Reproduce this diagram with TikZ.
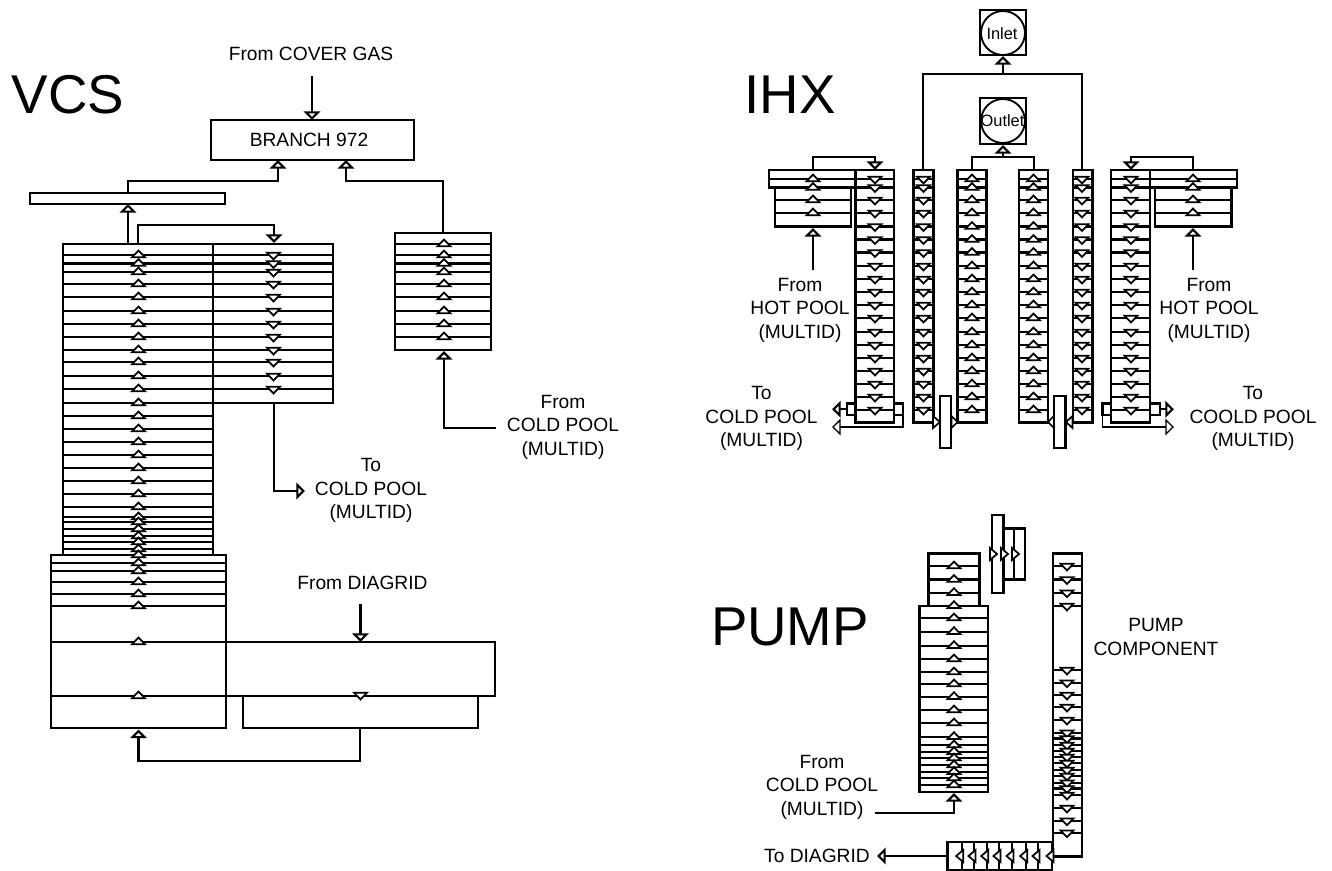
\documentclass[tikz,border=0pt]{standalone}
\usepackage{fontspec}
\setmainfont{Liberation Sans}
\usetikzlibrary{arrows.meta,calc}
\tikzset{
  cell/.style={draw=black,line width=1.6pt,inner sep=0pt,outer sep=0pt,rectangle},
  tri/.style={draw=black,fill=white,line width=1.3pt,line join=miter},
  link/.style={draw=black,line width=1.6pt},
  flow/.style={link,-{Triangle[open,fill=white,length=6.5pt,width=12.5pt]}},
  thinflow/.style={flow,line width=1pt},
  lab/.style={font=\fontsize{14.4}{17.6}\selectfont,align=center,inner sep=0pt},
  small/.style={font=\fontsize{12.3}{14}\selectfont,inner sep=0pt},
  big/.style={font=\fontsize{41}{44}\selectfont,inner sep=0pt},
  port/.style={draw=black,fill=white,line width=1.4pt,circle,inner sep=0pt,minimum size=33pt}
}
% one box from corner to corner, in pixels
\newcommand{\bx}[5]{%
  \pgfmathsetmacro{\ww}{(#4-#2)*0.75}\pgfmathsetmacro{\hh}{(#5-#3)*0.75}%
  \pgfmathsetmacro{\cx}{(#2+#4)/2}\pgfmathsetmacro{\cy}{(#3+#5)/2}%
  \node[cell,minimum width=\ww pt,minimum height=\hh pt] (#1) at (\cx,\cy) {};}
% a stack of rows, between the y values of a list
\newcommand{\rowstack}[4]{%
  \foreach \yy [remember=\yy as \py (initially 0),count=\ix] in #4 {%
    \ifnum\ix>1 \bx{#1-\ix}{#2}{\py}{#3}{\yy}\fi}}
% small flow triangles
\newcommand{\tu}[2]{\foreach \yy in #2 {\draw[tri] (#1-6.5,\yy+2.3)--(#1+6.5,\yy+2.3)--(#1,\yy-4.5)--cycle;}}
\newcommand{\td}[2]{\foreach \yy in #2 {\draw[tri] (#1-6.5,\yy-2.3)--(#1+6.5,\yy-2.3)--(#1,\yy+4.5)--cycle;}}
% side triangles: x of the base, x of the apex, y
\newcommand{\ts}[3]{\draw[tri] (#1,#3-6)--(#1,#3+6)--(#2,#3)--cycle;}
\begin{document}
\begin{tikzpicture}[x=0.75pt,y=-0.75pt]
\useasboundingbox (0,0) rectangle (1332,871);
\fill[white] (0,0) rectangle (1332,871);

%%%%%%%% VCS
\node[big] (tvcs) at (68,95) {VCS};
\node[lab] (tcover) at (311,54) {From COVER GAS};
\bx{branch}{211}{120}{414}{160}
\node[lab] (tbranch) at (309,140) {BRANCH 972};
\bx{flat}{30}{193}{225}{204}
\def\mainys{244,255,263.5,272,284,297,311,324,337,350,362,376,389,403,416,429,442,455,468,481,494,507,517,522,529,536,542,549,555}
\def\mainyt{255,263.5,272,284,297,311,324,337,350,362,376,389,403,416,429,442,455,468,481,494,507,517,522,529,536,542,549,555,563,571,582,594,606,642,696}
\rowstack{main}{63}{213}{\mainys}
\rowstack{mid}{213}{333}{{244,255,263.5,272,284,297,311,324,337,350,362,376,389,403}}
\rowstack{side}{395}{491}{{233,244,255,263.5,272,284,297,311,324,337,350}}
\rowstack{base}{51}{226}{{555,563,571,582,594,606,642,696,728}}
\bx{duct}{226}{642}{495}{696}
\bx{lower}{243}{696}{478}{728}
\tu{138.5}{\mainyt}
\td{273.5}{{255,263.5,272,284,297,311,324,337,350,362,376,389}}
\tu{444}{{244,255,263.5,272,284,297,311,324,337}}
\td{360.5}{{695}}

\coordinate (cfree) at (312,76);
\coordinate (bin1) at (278,160);
\coordinate (bin2) at (346,160);
\coordinate (mainout) at (128,244);
\coordinate (flatin) at (128,204);
\coordinate (mainout2) at (138,244);
\coordinate (midin) at (274,243);
\coordinate (midout) at (274,403);
\coordinate (coldout) at (305,491);
\coordinate (sidein) at (444,351);
\coordinate (coldin) at (496,428);
\coordinate (diag) at (360.5,604);
\coordinate (lowerout) at (360,728);
\coordinate (basein) at (138.5,729.5);
\draw[flow] (cfree) -- (cfree |- branch.north);
\draw[flow] (flatin |- flat.north) -- ++(0,-12) -| (bin1);
\draw[flow] (side-2.north) -- ++(0,-52) -| (bin2);
\draw[flow] (mainout) -- (flatin);
\draw[flow] (mainout2) -- ++(0,-19) -| (midin);
\draw[flow] (midout) |- (coldout);
\draw[flow] (coldin) -| (sidein);
\draw[flow] (diag) -- (diag |- duct.north);
\draw[flow] (lowerout) -- ++(0,33) -| (basein);
\node[lab] (tcold1) at (371,490.5) {To\\COLD POOL\\(MULTID)};
\node[lab] (tcold2) at (563,427) {From\\COLD POOL\\(MULTID)};
\node[lab] (tdiag) at (362.5,583) {From DIAGRID};

%%%%%%%% IHX
\node[big] (tihx) at (790,95) {IHX};
\bx{inbox}{980}{10}{1026}{55}
\node[port] (incirc) at (1003,33) {};
\node[small] (tin) at (1002,34) {Inlet};
\bx{outbox}{980}{98}{1026}{144}
\node[port] (outcirc) at (1003,121) {};
\node[small] (tout) at (1002.5,121) {Outlet};
\def\ihxys{170,179,187.5,200,213,226.5,239.5,252.5,266,279,292,305,318,332,345,358,371,384,397,410,422.5}
\def\ihxyt{179,187.5,200,213,226.5,239.5,252.5,266,279,292,305,318,332,345,358,371,384,397,410}
% outlet boxes lie behind the outer columns
\bx{sbl}{847}{403.5}{903}{415}
\bx{sbr}{1102.5}{403.5}{1160}{415}
\fill[white] (855.5,170) rectangle (894,422.5);
\fill[white] (1111,170) rectangle (1150,422.5);
\rowstack{cola}{855.5}{894}{\ihxys}
\rowstack{colb}{913.5}{933.5}{\ihxys}
\rowstack{colc}{957.5}{986.5}{\ihxys}
\rowstack{cold}{1019}{1048}{\ihxys}
\rowstack{cole}{1073}{1092.5}{\ihxys}
\rowstack{colf}{1111}{1150}{\ihxys}
\rowstack{hotl}{769}{855.5}{{170,179,187.5}}
\rowstack{hotm}{775}{851}{{187.5,200,213,226.5}}
\rowstack{hotr}{1150}{1237}{{170,179,187.5}}
\rowstack{hots}{1155}{1231.5}{{187.5,200,213,226.5}}
\td{875}{\ihxyt}
\td{923.5}{\ihxyt}
\tu{972}{\ihxyt}
\tu{1033.5}{\ihxyt}
\td{1082}{\ihxyt}
\td{1131}{\ihxyt}
\tu{813}{{179,187.5,200,213}}
\tu{1193}{{179,187.5,200,213}}
\bx{platel}{940}{396}{951}{448}
\bx{plater}{1054}{396}{1065.5}{448}
\ts{933}{940}{422}
\ts{951.5}{957.5}{422}
\ts{1054}{1048}{422}
\ts{1072.5}{1066}{422}

\coordinate (inin) at (1003,56);
\coordinate (outin) at (1003,145);
\coordinate (btop) at (923,170);
\coordinate (etop) at (1082,170);
\coordinate (ctop) at (972,170);
\coordinate (dtop) at (1034,170);
\coordinate (hltop) at (813,170);
\coordinate (hrtop) at (1193,170);
\coordinate (atop) at (875,170);
\coordinate (ftop) at (1131,170);
\coordinate (hlfree) at (813,270);
\coordinate (hlin) at (813,228);
\coordinate (hrfree) at (1193,270);
\coordinate (hrin) at (1193,228);
\coordinate (lolfree) at (832,409.25);
\coordinate (rorfree) at (1174,409.25);
\coordinate (lolfree2) at (832,427);
\coordinate (rorfree2) at (1174,427);
\draw[link] (btop) |- (etop |- 0,74) -- (etop);
\draw[flow] (inin |- 0,74) -- (inin);
\draw[link] (ctop) |- (dtop |- 0,157) -- (dtop);
\draw[flow] (outin |- 0,157) -- (outin);
\draw[flow] (hltop) -- ++(0,-13) -| (atop);
\draw[flow] (hrtop) -- ++(0,-13) -| (ftop);
\draw[flow] (hlfree) -- (hlin);
\draw[flow] (hrfree) -- (hrin);
\draw[flow] (sbl.west) -- (lolfree);
\draw[flow] (sbr.east) -- (rorfree);
\draw[thinflow] (sbl.south east) |- (lolfree2);
\draw[thinflow] (sbr.south west) |- (rorfree2);
\node[lab] (thotl) at (800,310) {From\\HOT POOL\\(MULTID)};
\node[lab] (thotr) at (1209,310) {From\\HOT POOL\\(MULTID)};
\node[lab] (tcl) at (761.5,418.5) {To\\COLD POOL\\(MULTID)};
\node[lab] (tcr) at (1253,418.5) {To\\COOLD POOL\\(MULTID)};

%%%%%%%% PUMP
\node[big] (tpump) at (790,627) {PUMP};
\rowstack{pua}{928.5}{979.5}{{553.5,566,579.5,592.7,605.7}}
\rowstack{pub}{919.5}{988}{{605.7,618,631.7,645.7,659,672,684,696.7,710,723,736.7,745,751.7,758,765,771.7,778,785,791.7}}
\tu{954}{{566,579.5,592.7,605.7,618,631.7,645.7,659,672,684,696.7,710,723,736.7,745,751.7,758,765,771.7,778,785}}
\bx{pc1}{992}{515}{1003.5}{593}
\bx{pc2}{1003.5}{528.5}{1014}{579.5}
\bx{pc3}{1014}{528.5}{1025}{579.5}
\ts{990}{997}{554}
\ts{1001}{1008}{554}
\ts{1012}{1019}{554}
\rowstack{puc}{1053}{1082}{{553.5,566,579.5,592.7,606,670,682.7,695,707,720,732.7,738.5,745,751,757,763,770,776,782.7,788.5,795,808,820.7,832.7,856.5}}
\td{1067}{{566,579.5,592.7,606,670,682.7,695,707,720,732.7,738.5,745,751,757,763,770,776,782.7,788.5,795,808,820.7,832.7}}
\rowstack{pud}{947.5}{1052}{{842,870}}
\foreach \xx in {961.7,974,986.7,999,1012,1025.7,1038,1052}{
  \draw[link] (\xx,842) -- (\xx,870);
  \ts{\xx+1.5}{\xx-5.5}{856}
}
\coordinate (cpfree) at (875,813);
\coordinate (pubin) at (954,793);
\coordinate (diagfree) at (877,856);
\draw[flow] (cpfree) -| (pubin);
\draw[flow] (pud-2.west) -- (diagfree);
\node[lab] (tcp) at (822,787) {From\\COLD POOL\\(MULTID)};
\node[lab] (tdg) at (817,856) {To DIAGRID};
\node[lab] (tpc) at (1156,637) {PUMP\\COMPONENT};
\end{tikzpicture}
\end{document}
